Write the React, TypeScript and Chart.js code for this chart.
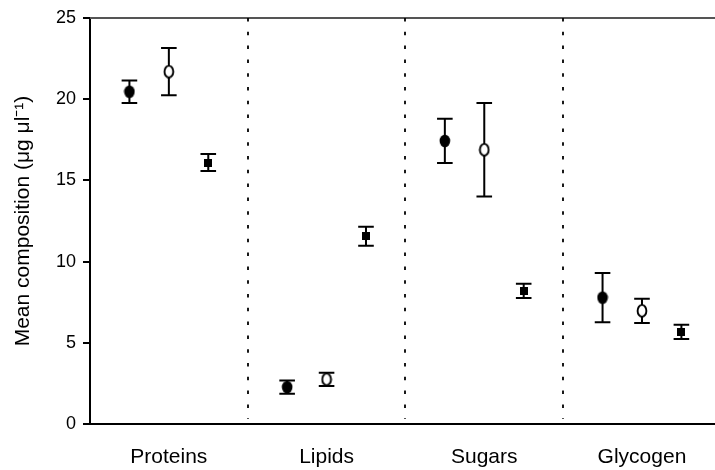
import React, { useEffect, useRef } from 'react';
import { Chart, registerables } from 'chart.js';

Chart.register(...registerables);

const categories = ['Proteins', 'Lipids', 'Sugars', 'Glycogen'];
const yTickValues = [0, 5, 10, 15, 20, 25];

const filledCircleMeans = [20.46, 2.27, 17.43, 7.78];
const filledCircleErrors = [0.69, 0.41, 1.36, 1.52];

const openCircleMeans = [21.7, 2.75, 16.89, 6.97];
const openCircleErrors = [1.45, 0.41, 2.88, 0.75];

const squareMeans = [16.1, 11.56, 8.2, 5.67];
const squareErrors = [0.52, 0.58, 0.44, 0.44];

const seriesOffsets = [-0.25, 0, 0.25];

const FONT = "'Liberation Sans', Arial, Helvetica, sans-serif";

function makeMarker(kind: string): HTMLCanvasElement {
  const c = document.createElement('canvas');
  if (kind === 'square') {
    c.width = 8;
    c.height = 8;
    const ctx = c.getContext('2d')!;
    ctx.fillStyle = '#000';
    ctx.fillRect(0, 0, 8, 8);
    return c;
  }
  c.width = 12;
  c.height = 14;
  const ctx = c.getContext('2d')!;
  ctx.beginPath();
  if (kind === 'filled') {
    ctx.ellipse(6, 7, 5.3, 6.3, 0, 0, Math.PI * 2);
    ctx.fillStyle = '#000';
    ctx.fill();
  } else {
    ctx.ellipse(6, 7, 4.4, 5.9, 0, 0, Math.PI * 2);
    ctx.fillStyle = '#fff';
    ctx.fill();
    ctx.lineWidth = 1.9;
    ctx.strokeStyle = '#000';
    ctx.stroke();
  }
  return c;
}

const errorLists = [filledCircleErrors, openCircleErrors, squareErrors];

const decorPlugin = {
  id: 'decor',
  beforeDatasetsDraw(chart: any) {
    const { ctx, chartArea, scales } = chart;
    const xs = scales.x;
    const ys = scales.y;
    ctx.save();
    // top border
    ctx.strokeStyle = '#555';
    ctx.lineWidth = 2;
    ctx.beginPath();
    ctx.moveTo(chartArea.left, chartArea.top);
    ctx.lineTo(chartArea.right, chartArea.top);
    ctx.stroke();
    // dotted separators
    ctx.strokeStyle = '#000';
    ctx.lineWidth = 1.8;
    ctx.setLineDash([3.5, 10.3]);
    for (let i = 0; i < categories.length - 1; i++) {
      const x = Math.round(xs.getPixelForValue(i + 0.5));
      ctx.beginPath();
      ctx.moveTo(x, chartArea.top);
      ctx.lineTo(x, chartArea.bottom - 5);
      ctx.stroke();
    }
    ctx.setLineDash([]);
    // error bars
    ctx.strokeStyle = '#000';
    ctx.lineWidth = 2;
    chart.data.datasets.forEach((ds: any, di: number) => {
      const errs = errorLists[di];
      ds.data.forEach((pt: any, i: number) => {
        const x = xs.getPixelForValue(pt.x);
        const yTop = ys.getPixelForValue(pt.y + errs[i]);
        const yBot = ys.getPixelForValue(pt.y - errs[i]);
        ctx.beginPath();
        ctx.moveTo(x, yTop);
        ctx.lineTo(x, yBot);
        ctx.moveTo(x - 7.8, yTop);
        ctx.lineTo(x + 7.8, yTop);
        ctx.moveTo(x - 7.8, yBot);
        ctx.lineTo(x + 7.8, yBot);
        ctx.stroke();
      });
    });
    ctx.restore();
  },
};

export default function App() {
  const canvasRef = useRef<HTMLCanvasElement | null>(null);

  useEffect(() => {
    const canvas = canvasRef.current;
    if (!canvas) return;
    const toPoints = (means: number[], s: number) =>
      means.map((v, i) => ({ x: i + seriesOffsets[s], y: v }));

    const chart = new Chart(canvas, {
      type: 'scatter',
      data: {
        datasets: [
          {
            label: 'Filled circle',
            data: toPoints(filledCircleMeans, 0),
            pointStyle: makeMarker('filled') as any,
            pointRadius: 6,
          },
          {
            label: 'Open circle',
            data: toPoints(openCircleMeans, 1),
            pointStyle: makeMarker('open') as any,
            pointRadius: 6,
          },
          {
            label: 'Square',
            data: toPoints(squareMeans, 2),
            pointStyle: makeMarker('square') as any,
            pointRadius: 5,
          },
        ],
      },
      options: {
        animation: false,
        responsive: false,
        maintainAspectRatio: false,
        layout: { autoPadding: false, padding: { top: 18, left: 0, right: 0, bottom: 0 } },
        plugins: {
          legend: { display: false },
          tooltip: { enabled: false },
        },
        scales: {
          x: {
            type: 'linear',
            min: -0.5,
            max: 3.463,
            afterFit: (scale: any) => {
              scale.height = 46;
              scale.paddingLeft = 0;
              scale.paddingRight = 0;
            },
            afterBuildTicks: (scale: any) => {
              scale.ticks = categories.map((_, i) => ({ value: i }));
            },
            grid: { display: false, drawTicks: false },
            border: { display: true, color: '#000', width: 2 },
            ticks: {
              autoSkip: false,
              maxRotation: 0,
              padding: 21,
              color: '#000',
              font: { family: FONT, size: 21 },
              callback: (v: any) => categories[Math.round(Number(v))] ?? '',
            },
          },
          y: {
            type: 'linear',
            min: 0,
            max: 25,
            afterFit: (scale: any) => {
              scale.width = 90;
              scale.paddingTop = 0;
              scale.paddingBottom = 0;
            },
            afterBuildTicks: (scale: any) => {
              scale.ticks = yTickValues.map((v) => ({ value: v }));
            },
            grid: {
              drawOnChartArea: false,
              drawTicks: true,
              tickLength: 7,
              color: '#000',
              lineWidth: 2,
            },
            border: { display: true, color: '#000', width: 2 },
            ticks: {
              padding: 7,
              color: '#000',
              font: { family: FONT, size: 18 },
            },
            title: {
              display: true,
              text: 'Mean composition (μg μl⁻¹)',
              color: '#000',
              font: { family: FONT, size: 21 },
              padding: { top: 11, bottom: 0 },
            },
          },
        },
      },
      plugins: [decorPlugin],
    });
    return () => chart.destroy();
  }, []);

  return (
    <div style={{ position: 'fixed', left: 0, top: 0, width: 715, height: 470, background: '#fff' }}>
      <canvas ref={canvasRef} width={715} height={470} style={{ display: 'block' }} />
    </div>
  );
}
